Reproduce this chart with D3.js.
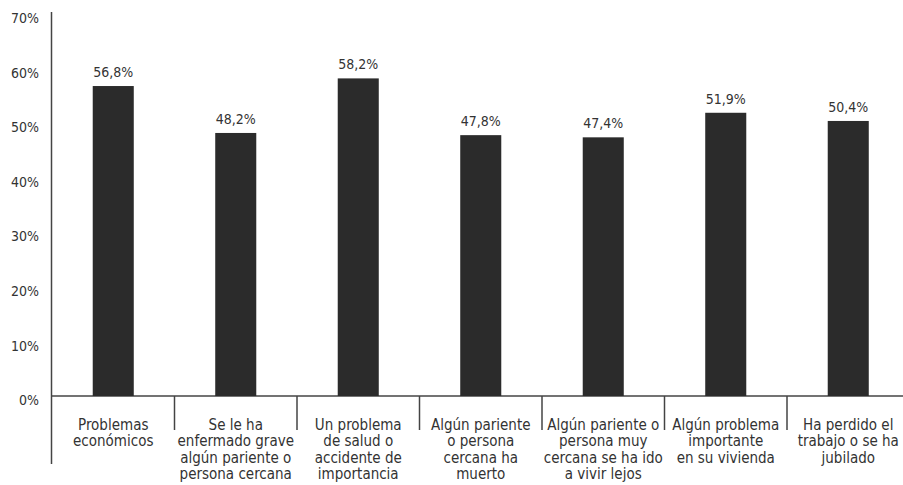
<!DOCTYPE html>
<html>
<head>
<meta charset="utf-8">
<script src="https://cdn.jsdelivr.net/npm/d3@7"></script>
<style>
  html, body { margin: 0; padding: 0; background: #fff; }
  svg { display: block; }
  text { font-family: "DejaVu Sans Condensed", "DejaVu Sans", sans-serif; font-stretch: condensed; fill: #333; }
</style>
</head>
<body>
<svg id="chart" width="903" height="485"></svg>
<script>
const categories = [
  ["Problemas", "económicos"],
  ["Se le ha", "enfermado grave", "algún pariente o", "persona cercana"],
  ["Un problema", "de salud o", "accidente de", "importancia"],
  ["Algún pariente", "o persona", "cercana ha", "muerto"],
  ["Algún pariente o", "persona muy", "cercana se ha ido", "a vivir lejos"],
  ["Algún problema", "importante", "en su vivienda"],
  ["Ha perdido el", "trabajo o se ha", "jubilado"]
];
const values = [56.8, 48.2, 58.2, 47.8, 47.4, 51.9, 50.4];
const valueLabels = ["56,8%", "48,2%", "58,2%", "47,8%", "47,4%", "51,9%", "50,4%"];
const yTicks = [0, 10, 20, 30, 40, 50, 60, 70];

const svg = d3.select("#chart");
const ids = d3.range(categories.length);

const x = d3.scaleBand().domain(ids).range([52, 909.5]).padding(0);
const y = d3.scaleLinear().domain([0, 70]).range([396, 14]);
const barW = x.bandwidth() * 0.335;

// y axis line
svg.append("line")
  .attr("x1", 51.5).attr("x2", 51.5)
  .attr("y1", 12).attr("y2", 464)
  .attr("stroke", "#444").attr("stroke-width", 1.5);

// y tick labels
const yAxis = d3.axisLeft(y).tickValues(yTicks).tickSize(0).tickPadding(0)
  .tickFormat(d => d + "%");
const gy = svg.append("g").attr("transform", "translate(39,0)").call(yAxis);
gy.select(".domain").remove();
gy.selectAll("text")
  .attr("font-size", 14)
  .attr("dy", "0.62em")
  .style("font-family", null)
  .attr("font-family", null);

// baseline
svg.append("line")
  .attr("x1", 51.5).attr("x2", 903)
  .attr("y1", y(0)).attr("y2", y(0))
  .attr("stroke", "#444").attr("stroke-width", 1.5);

// category separators
svg.append("g").selectAll("line")
  .data(ids.slice(1).concat([ids.length]))
  .join("line")
  .attr("x1", d => 52 + d * x.step()).attr("x2", d => 52 + d * x.step())
  .attr("y1", y(0)).attr("y2", 430)
  .attr("stroke", "#444").attr("stroke-width", 1.5);

// bars
svg.append("g").selectAll("rect")
  .data(ids)
  .join("rect")
  .attr("x", i => x(i) + (x.bandwidth() - barW) / 2)
  .attr("width", barW)
  .attr("y", i => y(values[i]))
  .attr("height", i => y(0) - y(values[i]))
  .attr("fill", "#2b2b2b");

// value labels
svg.append("g").selectAll("text")
  .data(ids)
  .join("text")
  .attr("x", i => x(i) + x.bandwidth() / 2)
  .attr("y", i => y(values[i]) - 9)
  .attr("text-anchor", "middle")
  .attr("font-size", 14)
  .text(i => valueLabels[i]);

// category labels
const cg = svg.append("g").selectAll("text")
  .data(ids)
  .join("text")
  .attr("text-anchor", "middle")
  .attr("font-size", 15)
  .attr("x", i => x(i) + x.bandwidth() / 2)
  .attr("y", 430);
cg.each(function(i) {
  d3.select(this).selectAll("tspan")
    .data(categories[i])
    .join("tspan")
    .attr("x", x(i) + x.bandwidth() / 2)
    .attr("dy", (d, k) => k === 0 ? 0 : 16.3)
    .text(d => d);
});
</script>
</body>
</html>
